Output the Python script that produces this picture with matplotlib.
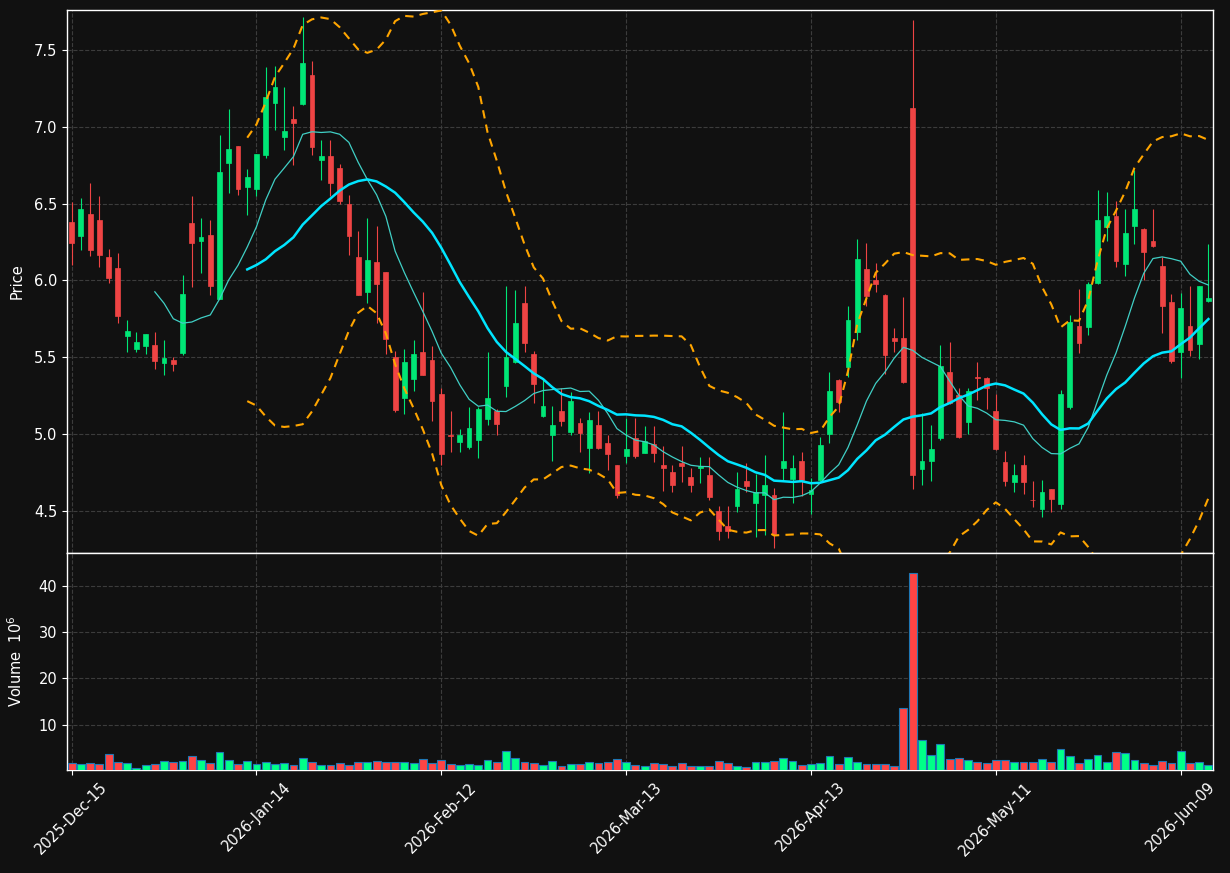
import numpy as np
import pandas as pd
import matplotlib
matplotlib.use('Agg')
import matplotlib.pyplot as plt

# daily OHLC (index 0 = 2025-12-15)
opens = [6.38, 6.29, 6.431, 6.392, 6.152, 6.080, 5.641, 5.556, 5.576, 5.580,
         5.466, 5.483, 5.530, 6.373, 6.258, 6.295, 5.881, 6.765, 6.872, 6.608,
         6.596, 6.816, 7.154, 6.933, 7.048, 7.147, 7.340, 6.784, 6.807, 6.729,
         6.500, 6.152, 5.926, 6.119, 6.054, 5.500, 5.238, 5.362, 5.535, 5.483,
         5.262, 4.997, 4.952, 4.917, 4.959, 5.099, 5.151, 5.316, 5.467, 5.853,
         5.521, 5.121, 4.997, 5.153, 5.017, 5.075, 4.907, 5.060, 4.943, 4.800,
         4.861, 4.976, 4.879, 4.935, 4.801, 4.755, 4.814, 4.721, 4.777, 4.736,
         4.502, 4.405, 4.530, 4.697, 4.550, 4.602, 4.604, 4.777, 4.710, 4.827,
         4.610, 4.699, 4.998, 5.353, 5.439, 5.662, 6.074, 6.002, 5.905, 5.627,
         5.627, 7.120, 4.771, 4.823, 4.972, 5.404, 5.258, 5.082, 5.372, 5.367,
         5.152, 4.816, 4.690, 4.798, 4.574, 4.515, 4.642, 4.547, 5.177, 5.707,
         5.697, 5.985, 6.346, 6.422, 6.106, 6.353, 6.338, 6.260, 6.097, 5.857,
         5.534, 5.707, 5.586, 5.866]
highs = [6.51, 6.54, 6.636, 6.552, 6.208, 6.182, 5.740, 5.662, 5.655, 5.662,
         5.611, 5.500, 6.033, 6.552, 6.409, 6.392, 6.949, 7.117, 6.875, 6.727,
         6.825, 7.390, 7.396, 7.258, 7.134, 7.717, 7.429, 6.916, 6.916, 6.759,
         6.558, 6.325, 6.409, 6.357, 6.056, 5.539, 5.552, 5.611, 5.922, 5.576,
         5.301, 5.151, 5.032, 5.179, 5.179, 5.532, 5.164, 5.961, 5.941, 5.967,
         5.541, 5.359, 5.186, 5.298, 5.277, 5.104, 5.145, 5.151, 4.997, 4.800,
         5.104, 5.104, 5.050, 5.050, 4.926, 4.799, 4.926, 4.777, 4.850, 4.850,
         4.530, 4.530, 4.753, 4.812, 4.742, 4.866, 4.649, 5.143, 4.866, 4.883,
         4.714, 4.980, 5.402, 5.360, 5.831, 6.267, 6.246, 6.116, 5.910, 5.692,
         5.891, 7.697, 5.141, 5.059, 5.578, 5.597, 5.298, 5.298, 5.467, 5.370,
         5.259, 4.890, 4.809, 4.867, 4.694, 4.701, 4.645, 5.290, 5.777, 5.946,
         5.993, 6.589, 6.576, 6.519, 6.465, 6.721, 6.340, 6.465, 6.151, 5.911,
         5.917, 5.961, 5.961, 6.238]
lows = [6.10, 6.20, 6.162, 6.089, 5.985, 5.721, 5.532, 5.537, 5.520, 5.422,
        5.383, 5.409, 5.513, 5.959, 6.050, 5.903, 5.877, 6.572, 6.558, 6.429,
        6.548, 6.800, 6.981, 6.851, 6.749, 7.140, 6.818, 6.656, 6.550, 6.500,
        6.169, 5.903, 5.851, 5.721, 5.520, 5.143, 5.130, 5.279, 5.385, 5.084,
        4.801, 4.887, 4.883, 4.902, 4.848, 5.058, 4.993, 5.240, 5.460, 5.537,
        5.201, 5.112, 4.824, 5.054, 4.995, 4.885, 4.745, 4.905, 4.764, 4.584,
        4.811, 4.848, 4.875, 4.822, 4.628, 4.621, 4.692, 4.623, 4.682, 4.574,
        4.314, 4.324, 4.494, 4.621, 4.331, 4.346, 4.260, 4.703, 4.552, 4.595,
        4.482, 4.695, 4.943, 5.142, 5.374, 5.611, 5.836, 5.924, 5.391, 5.532,
        5.332, 4.644, 4.667, 4.695, 4.961, 5.195, 4.972, 5.002, 5.224, 5.166,
        4.895, 4.663, 4.621, 4.608, 4.528, 4.460, 4.496, 4.510, 5.164, 5.528,
        5.647, 5.980, 6.260, 6.091, 6.032, 6.238, 6.000, 6.220, 5.660, 5.463,
        5.368, 5.510, 5.491, 5.860]
closes = [6.245, 6.463, 6.199, 6.167, 6.017, 5.771, 5.671, 5.600, 5.652, 5.479,
          5.496, 5.459, 5.911, 6.243, 6.282, 5.965, 6.704, 6.853, 6.595, 6.671,
          6.821, 7.197, 7.262, 6.970, 7.024, 7.418, 6.868, 6.807, 6.634, 6.515,
          6.290, 5.907, 6.132, 5.978, 5.621, 5.160, 5.470, 5.522, 5.388, 5.219,
          4.868, 4.990, 4.995, 5.041, 5.164, 5.236, 5.069, 5.502, 5.723, 5.595,
          5.329, 5.184, 5.060, 5.088, 5.216, 5.010, 5.093, 4.907, 4.870, 4.606,
          4.904, 4.859, 4.954, 4.879, 4.777, 4.666, 4.796, 4.666, 4.796, 4.589,
          4.368, 4.370, 4.645, 4.660, 4.623, 4.671, 4.348, 4.827, 4.781, 4.703,
          4.634, 4.931, 5.282, 5.212, 5.743, 6.139, 5.901, 5.979, 5.518, 5.608,
          5.337, 4.737, 4.827, 4.906, 5.444, 5.200, 4.979, 5.282, 5.365, 5.298,
          4.901, 4.693, 4.733, 4.690, 4.570, 4.625, 4.580, 5.259, 5.727, 5.593,
          5.980, 6.396, 6.422, 6.125, 6.312, 6.467, 6.184, 6.223, 5.833, 5.476,
          5.818, 5.547, 5.961, 5.883]
# volume in millions
volumes = [1.60, 1.38, 1.60, 1.38, 3.56, 1.82, 1.60, 0.51, 1.16, 1.38,
           2.03, 1.82, 2.03, 3.12, 2.25, 1.60, 3.99, 2.25, 1.38, 2.03,
           1.38, 1.82, 1.38, 1.60, 1.16, 2.69, 1.82, 1.16, 1.16, 1.60,
           1.16, 1.82, 1.82, 2.03, 1.82, 1.82, 1.82, 1.60, 2.47, 1.60,
           2.25, 1.38, 1.16, 1.38, 1.16, 2.25, 1.82, 4.21, 2.69, 1.82,
           1.60, 1.16, 2.03, 0.95, 1.38, 1.38, 1.82, 1.60, 1.82, 2.47,
           1.82, 1.16, 0.95, 1.60, 1.38, 0.95, 1.60, 0.95, 0.95, 0.95,
           2.03, 1.60, 0.95, 0.73, 1.82, 1.82, 2.03, 2.69, 2.03, 1.16,
           1.38, 1.60, 3.12, 1.38, 2.90, 1.82, 1.38, 1.38, 1.38, 0.95,
           13.56, 42.90, 6.60, 3.34, 5.73, 2.47, 2.69, 2.25, 1.82, 1.60,
           2.25, 2.25, 1.82, 1.82, 1.82, 2.47, 1.82, 4.64, 3.12, 1.60,
           2.47, 3.34, 1.82, 3.99, 3.77, 2.25, 1.60, 1.16, 2.03, 1.60,
           4.21, 1.60, 1.82, 1.16]

holidays = ['2025-12-25', '2026-01-01', '2026-01-19', '2026-02-16',
            '2026-04-03', '2026-05-25']
dates = pd.bdate_range('2025-12-15', periods=len(closes), freq='C', holidays=holidays)

df = pd.DataFrame({'Open': opens, 'High': highs, 'Low': lows,
                   'Close': closes, 'Volume': volumes}, index=dates)
df['MA10'] = df['Close'].rolling(10).mean()
df['MA20'] = df['Close'].rolling(20).mean()
std20 = df['Close'].rolling(20).std(ddof=0)
df['BBU'] = df['MA20'] + 2 * std20
df['BBL'] = df['MA20'] - 2 * std20

bg = '#111111'
up_c, dn_c = '#00e676', '#ef4444'
vup_c, vdn_c = '#00ff88', '#ff4444'

fig = plt.figure(figsize=(12.3, 8.73), dpi=100, facecolor=bg)
ax = fig.add_axes([0.0545, 0.3666, 0.9317, 0.6219], facecolor=bg)
axv = fig.add_axes([0.0545, 0.118, 0.9317, 0.2486], facecolor=bg, sharex=ax)

x = np.arange(len(df))
up = df['Close'] >= df['Open']
ccol = np.where(up, up_c, dn_c)
vcol = np.where(up, vup_c, vdn_c)

# candles
ax.vlines(x, df['Low'], df['High'], colors=ccol, linewidth=0.8, zorder=3)
ax.bar(x, df['Close'] - df['Open'], bottom=df['Open'], width=0.52,
       color=ccol, edgecolor=ccol, linewidth=0.5, zorder=4)

# moving averages + bollinger
ax.plot(x, df['MA10'], color='#40cfc5', linewidth=0.9, zorder=5)
ax.plot(x, df['MA20'], color='#00e5ff', linewidth=1.8, zorder=5)
ax.plot(x, df['BBU'], color='#ffa500', linewidth=1.5, linestyle=(0, (4, 3)), zorder=5)
ax.plot(x, df['BBL'], color='#ffa500', linewidth=1.5, linestyle=(0, (4, 3)), zorder=5)

# volume
axv.bar(x, df['Volume'], width=0.85, color=vcol, edgecolor='#1f77b4',
        linewidth=0.8, zorder=3)

ax.set_xlim(-0.5, len(df) - 0.5)
ax.set_ylim(4.227, 7.76)
axv.set_ylim(0.3 * df['Volume'].min(), 1.1 * df['Volume'].max())

ticks = x[::20]
axv.set_xticks(ticks)
axv.set_xticklabels([d.strftime('%Y-%b-%d') for d in df.index[::20]],
                    rotation=45, color='white', fontsize=10.5)
ax.tick_params(axis='x', labelbottom=False, length=0)
ax.set_yticks([4.5, 5.0, 5.5, 6.0, 6.5, 7.0, 7.5])
axv.set_yticks([10, 20, 30, 40])

for a in (ax, axv):
    a.grid(True, color='#3c3c3c', linestyle='--', linewidth=0.8)
    a.set_axisbelow(True)
    a.tick_params(colors='white', labelsize=10.5)
    for s in a.spines.values():
        s.set_color('white')
        s.set_linewidth(1.0)

ax.set_ylabel('Price', color='white', fontsize=10.5)
axv.set_ylabel('Volume  $10^{6}$', color='white', fontsize=10.5)
ax.yaxis.set_label_coords(-0.037, 0.5)
axv.yaxis.set_label_coords(-0.037, 0.5)

fig.savefig('out.png', dpi=100, facecolor=bg)
